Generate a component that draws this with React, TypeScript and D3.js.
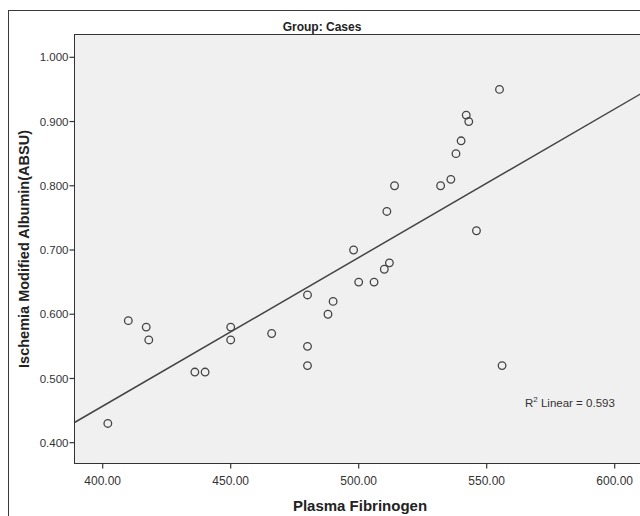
import React from "react";
import * as d3 from "d3";

const fibrinogen = [402, 410, 417, 418, 436, 440, 450, 450, 466, 480, 480, 480, 488, 490, 498, 500, 506, 510, 511, 512, 514, 532, 536, 538, 540, 542, 543, 546, 555, 556];
const ima = [0.43, 0.59, 0.58, 0.56, 0.51, 0.51, 0.58, 0.56, 0.57, 0.63, 0.55, 0.52, 0.60, 0.62, 0.70, 0.65, 0.65, 0.67, 0.76, 0.68, 0.80, 0.80, 0.81, 0.85, 0.87, 0.91, 0.90, 0.73, 0.95, 0.52];
const xTicks = [400, 450, 500, 550, 600];
const yTicks = [0.4, 0.5, 0.6, 0.7, 0.8, 0.9, 1.0];
const title = "Group: Cases";
const xTitle = "Plasma Fibrinogen";
const yTitle = "Ischemia Modified Albumin(ABSU)";
const r2Value = "0.593";

const W = 640;
const H = 516;
const plotLeft = 74.5;
const plotTop = 34.5;
const plotBottom = 463.5;
const plotRight = 660;

export default function App() {
  const x = d3.scaleLinear().domain([400, 600]).range([102.7, 614.7]);
  const y = d3.scaleLinear().domain([0.4, 1.0]).range([442.7, 57.3]);

  const mx = d3.mean(fibrinogen) as number;
  const my = d3.mean(ima) as number;
  let sxx = 0, sxy = 0;
  fibrinogen.forEach((v, i) => {
    sxx += (v - mx) * (v - mx);
    sxy += (v - mx) * (ima[i] - my);
  });
  const slope = sxy / sxx;
  const intercept = my - slope * mx;
  const x0 = x.invert(plotLeft);
  const x1 = x.invert(plotRight);
  const lineGen = d3.line<number>().x((d) => x(d)).y((d) => y(intercept + slope * d));

  const font = "'Liberation Sans', Arial, sans-serif";

  return (
    <svg width={W} height={H} style={{ position: "absolute", left: 0, top: 0, background: "#fff" }}>
      <defs>
        <clipPath id="plotclip">
          <rect x={plotLeft} y={plotTop} width={plotRight - plotLeft} height={plotBottom - plotTop} />
        </clipPath>
      </defs>
      <rect x={8.5} y={10.5} width={700} height={600} fill="#fff" stroke="#3a3a3a" strokeWidth={1} />
      <text x={322} y={31} textAnchor="middle" fontFamily={font} fontWeight="bold" fontSize={12} fill="#222">
        {title}
      </text>
      <rect x={plotLeft} y={plotTop} width={plotRight - plotLeft} height={plotBottom - plotTop} fill="#f0f0f0" stroke="#333" strokeWidth={1} />
      <g clipPath="url(#plotclip)">
        <path d={lineGen([x0, x1]) || ""} fill="none" stroke="#444" strokeWidth={1.5} />
        {fibrinogen.map((v, i) => (
          <circle key={i} cx={x(v)} cy={y(ima[i])} r={3.8} fill="none" stroke="#444" strokeWidth={1.3} />
        ))}
      </g>
      {yTicks.map((t) => (
        <g key={"y" + t}>
          <line x1={plotLeft - 5} x2={plotLeft} y1={y(t)} y2={y(t)} stroke="#333" strokeWidth={1.2} />
          <text x={plotLeft - 6} y={y(t)} dy="0.36em" textAnchor="end" fontFamily={font} fontSize={11.5} fill="#333">
            {t.toFixed(3)}
          </text>
        </g>
      ))}
      {xTicks.map((t) => (
        <g key={"x" + t}>
          <line x1={x(t)} x2={x(t)} y1={plotBottom} y2={plotBottom + 5} stroke="#333" strokeWidth={1.2} />
          <text x={x(t)} y={485} textAnchor="middle" fontFamily={font} fontSize={12} fill="#333">
            {t.toFixed(2)}
          </text>
        </g>
      ))}
      <text x={360} y={511} textAnchor="middle" fontFamily={font} fontWeight="bold" fontSize={15} fill="#222">
        {xTitle}
      </text>
      <text
        transform={`translate(29, ${(plotTop + plotBottom) / 2}) rotate(-90)`}
        textAnchor="middle"
        fontFamily={font}
        fontWeight="bold"
        fontSize={14.5}
        fill="#222"
      >
        {yTitle}
      </text>
      <text x={525} y={406.5} fontFamily={font} fontSize={11.5} fill="#333">
        R<tspan fontSize={8} dy={-5}>2</tspan>
        <tspan dy={5}> Linear = {r2Value}</tspan>
      </text>
    </svg>
  );
}
